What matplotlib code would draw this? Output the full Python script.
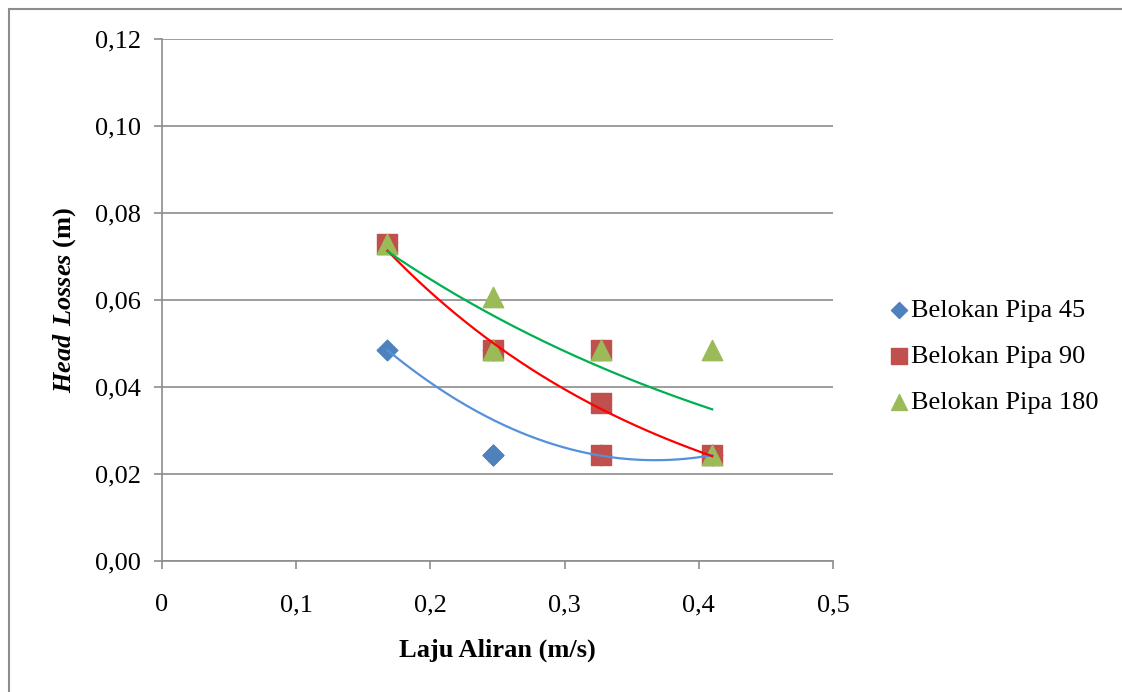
import numpy as np
import matplotlib
matplotlib.use("Agg")
import matplotlib.pyplot as plt
from matplotlib.patches import Rectangle

plt.rcParams['font.family'] = ['Liberation Serif', 'DejaVu Serif']
plt.rcParams['mathtext.fontset'] = 'custom'
plt.rcParams['mathtext.rm'] = 'Liberation Serif:bold'
plt.rcParams['mathtext.bfit'] = 'Liberation Serif:italic:bold'

# data (some points sit under other markers)
x45 = [0.168, 0.247, 0.247, 0.247, 0.327, 0.410]
y45 = [0.0485, 0.0243, 0.0243, 0.0485, 0.0243, 0.0243]

x90 = [0.168, 0.247, 0.327, 0.327, 0.327, 0.410]
y90 = [0.0728, 0.0485, 0.0485, 0.0364, 0.0243, 0.0243]

x180 = [0.168, 0.247, 0.247, 0.327, 0.410, 0.410]
y180 = [0.0728, 0.0607, 0.0485, 0.0485, 0.0485, 0.0243]

xticks = [0, 0.1, 0.2, 0.3, 0.4, 0.5]
yticks = [0, 0.02, 0.04, 0.06, 0.08, 0.10, 0.12]

fig = plt.figure(figsize=(11.22, 6.92), dpi=100)
fig.patches.append(Rectangle((9 / 1122, -0.05), 1.2, 1 - 9 / 692 + 0.05,
                             transform=fig.transFigure, fill=False,
                             edgecolor='#8c8c8c', linewidth=1.5))
ax = fig.add_axes([162 / 1122, 1 - 561 / 692, 671 / 1122, 522 / 692])

# markers
ax.scatter(x45, y45, marker='D', s=110, color='#4F81BD', zorder=3, label='Belokan Pipa 45')
ax.scatter(x90, y90, marker='s', s=222, color='#C0504D', zorder=4, label='Belokan Pipa 90')
ax.scatter(x180, y180, marker='^', s=215, color='#9BBB59', zorder=5, label='Belokan Pipa 180')

# trendlines: polynomial (order 2) for 45, exponential for 90 and 180
xx = np.linspace(min(x45), max(x45), 200)
p = np.polyfit(x45, y45, 2)
ax.plot(xx, np.polyval(p, xx), color='#5591DB', lw=1.6, zorder=6)

b, a = np.polyfit(x90, np.log(y90), 1)
ax.plot(xx, np.exp(a + b * xx), color='#FF0000', lw=1.6, zorder=6)

b, a = np.polyfit(x180, np.log(y180), 1)
ax.plot(xx, np.exp(a + b * xx), color='#00B050', lw=1.6, zorder=6)

ax.set_xlim(0, 0.5)
ax.set_ylim(0, 0.12)
ax.set_xticks(xticks)
ax.set_yticks(yticks)
ax.set_xticklabels([('%g' % v).replace('.', ',') for v in xticks], fontsize=19)
ax.set_yticklabels([('%.2f' % v).replace('.', ',') for v in yticks], fontsize=19)
ax.tick_params(axis='both', direction='out', length=6, width=1.2, color='#8c8c8c', pad=9)
ax.tick_params(axis='x', pad=18)
ax.grid(axis='y', color='#8c8c8c', linewidth=1.2)
ax.set_axisbelow(True)
for s in ['top', 'right']:
    ax.spines[s].set_visible(False)
for s in ['left', 'bottom']:
    ax.spines[s].set_color('#8c8c8c')
    ax.spines[s].set_linewidth(1.2)

ax.set_xlabel('Laju Aliran (m/s)', fontsize=19, fontweight='bold', labelpad=16)
ax.set_ylabel(r'$\mathbfit{Head\ Losses}$ (m)', fontsize=19, fontweight='bold', labelpad=12)

ax.legend(loc='center left', bbox_to_anchor=(891 / 1122, 1 - 356 / 692),
          bbox_transform=fig.transFigure, frameon=False, fontsize=19,
          handlelength=0.6, handletextpad=0.15, labelspacing=0.85,
          borderpad=0, borderaxespad=0, scatterpoints=1, markerscale=0.78)

fig.savefig('out.png', dpi=100)
